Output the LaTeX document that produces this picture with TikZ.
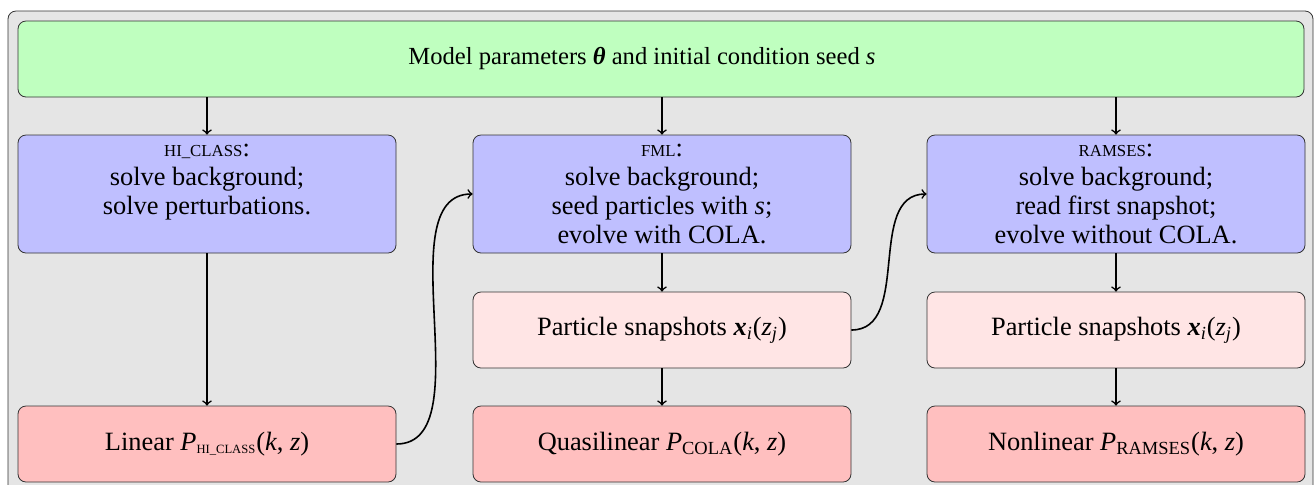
\documentclass[tikz,border=0pt,12pt]{standalone}
\usepackage{amsmath}
\usepackage{fontspec}
\setmainfont{Liberation Serif}
\newcommand{\smcp}[1]{{\fontsize{8.4}{10}\selectfont #1}}
\newcommand{\subsc}[1]{\text{\fontsize{6.3}{7}\selectfont #1}}
\newcommand{\bvec}[1]{\textbf{\textit{#1}}}
\newcommand{\steps}[1]{\parbox[t]{180pt}{\centering #1}}
\begin{document}
\begin{tikzpicture}[x=0.5pt,y=-0.5pt]
\tikzstyle{every node}+=[align=center,font=\fontsize{13.2}{14.6}\selectfont]
\tikzstyle{box}=[draw=black!80,rounded corners=4pt,minimum width=189pt,inner sep=3pt]
\tikzstyle{input}=[box,fill=green!25,minimum width=643pt,minimum height=38pt,font=\fontsize{12.3}{14.6}\selectfont]
\tikzstyle{code}=[box,fill=blue!25,text height=7.5pt,text depth=45.5pt]
\tikzstyle{snap}=[box,fill=red!10,minimum height=38pt]
\tikzstyle{power}=[box,fill=red!25,minimum height=38pt]
\tikzstyle{flow}=[->,thick]
\useasboundingbox (0,0) rectangle (1314,484);
\clip (0,0) rectangle (1314,484);
\draw [black!80,fill=black!10,rounded corners=4pt] (8,11) rectangle (1313,540);
\node [input] (params) at (661,59) {Model parameters \bvec{θ} and initial condition seed \textit{s}\hspace*{19pt}};
\node [code] (hicls) at (207,194) {\steps{\smcp{HI\_CLASS}:\\solve background;\\solve perturbations.}};
\node [code] (fml) at (662,194) {\steps{\smcp{FML}:\\solve background;\\seed particles with \textit{s};\\evolve with COLA.}};
\node [code] (ramses) at (1116,194) {\steps{\smcp{RAMSES}:\\solve background;\\read first snapshot;\\evolve without COLA.}};
\node [snap] (snapfml) at (662,330) {Particle snapshots \bvec{x}$_{\textit{i}}$(\textit{z}$_{\textit{j}}$)};
\node [snap] (snapram) at (1116,330) {Particle snapshots \bvec{x}$_{\textit{i}}$(\textit{z}$_{\textit{j}}$)};
\node [power] (plin) at (207,444) {Linear \textit{P}$_{\subsc{HI\_CLASS}}$(\textit{k}, \textit{z})};
\node [power] (pcola) at (662,444) {Quasilinear \textit{P}$_{\text{COLA}}$(\textit{k}, \textit{z})};
\node [power] (pram) at (1116,444) {Nonlinear \textit{P}$_{\text{RAMSES}}$(\textit{k}, \textit{z})};
\draw [flow] (params.south -| hicls) -- (hicls);
\draw [flow] (params.south -| fml) -- (fml);
\draw [flow] (params.south -| ramses) -- (ramses);
\draw [flow] (hicls) -- (plin);
\draw [flow] (fml) -- (snapfml);
\draw [flow] (snapfml) -- (pcola);
\draw [flow] (ramses) -- (snapram);
\draw [flow] (snapram) -- (pram);
\draw [flow] (plin.east) to [out=0,in=180,looseness=0.85] (fml.west);
\draw [flow] (snapfml.east) to [out=0,in=180] (ramses.west);
\end{tikzpicture}
\end{document}
